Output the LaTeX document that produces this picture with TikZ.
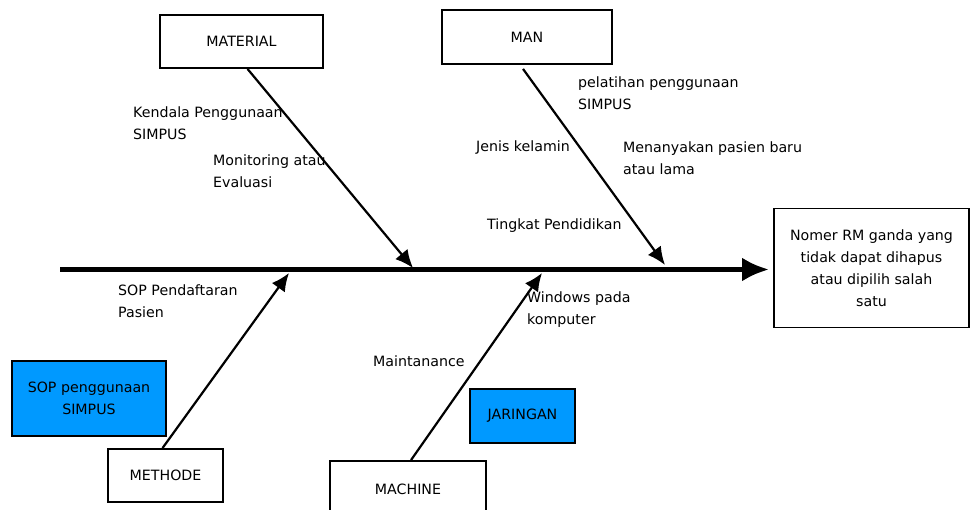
\documentclass[tikz,border=0pt]{standalone}
\usepackage{fontspec}
\setmainfont{DejaVu Sans}
\usetikzlibrary{positioning,arrows.meta,calc}
\definecolor{sopblue}{HTML}{0099FF}

\begin{document}
\begin{tikzpicture}[
  x=1pt, y=-1pt,
  every node/.style={font=\fontsize{14.2}{22}\selectfont},
  box/.style={draw, line width=1.8pt, inner sep=0pt, align=center, fill=white},
  cause/.style={box, fill=sopblue},
  lbl/.style={anchor=base west, inner sep=0pt, align=left},
  arr/.style={-{Latex[length=18pt,width=16pt]}, line width=2.2pt},
  spine/.style={-{Latex[length=27pt,width=24pt]}, line width=5pt}
]
\useasboundingbox (0,0) rectangle (970,510);
\clip (0,0) rectangle (970,510);

% category boxes
\node[box, minimum width=163pt, minimum height=53pt] (material) at (241.5,41.5) {MATERIAL};
\node[box, minimum width=170pt, minimum height=54pt] (man) at (527,37) {MAN};
\node[box, minimum width=115pt, minimum height=53pt] (methode) at (165.5,475.5) {METHODE};
\node[box, minimum width=156pt, minimum height=56pt] (machine) at (408,489) {MACHINE};
\node[box, minimum width=195pt, minimum height=119pt] (effect) at (871.5,268) {Nomer RM ganda yang\\tidak dapat dihapus\\atau dipilih salah\\satu};
\node[cause, minimum width=154pt, minimum height=75pt] (sop) at (89,398.5) {SOP penggunaan\\SIMPUS};
\node[cause, minimum width=105pt, minimum height=54pt] (jaringan) at (522.5,416) {JARINGAN};

% spine and bones
\coordinate (tail) at (60,269.5);
\coordinate (matTip) at (413,268);
\coordinate (manTip) at (665,265);
\coordinate (metTip) at (289,273);
\coordinate (macTip) at (542,273);

\draw[spine, shorten >=4pt] (tail) -- (tail -| effect.west);
\draw[arr] ([xshift=6pt]material.south) -- (matTip);
\draw[arr] ([xshift=-4pt,yshift=-4pt]man.south) -- (manTip);
\draw[arr] ([xshift=-3pt]methode.north) -- (metTip);
\draw[arr] ([xshift=3pt]machine.north) -- (macTip);

% causes
\node[lbl] (kendala) at (133,140) {Kendala Penggunaan\\SIMPUS};
\node[lbl] (monitor) at (213,188) {Monitoring atau\\Evaluasi};
\node[lbl] (pelatihan) at (578,110) {pelatihan penggunaan\\SIMPUS};
\node[lbl] (jenis) at (476,152) {Jenis kelamin};
\node[lbl] (tanya) at (623,175) {Menanyakan pasien baru\\atau lama};
\node[lbl] (tingkat) at (487,230) {Tingkat Pendidikan};
\node[lbl] (daftar) at (118,318) {SOP Pendaftaran\\Pasien};
\node[lbl] (maint) at (373,367) {Maintanance};
\node[lbl] (windows) at (527,325) {Windows pada\\komputer};
\end{tikzpicture}
\end{document}
